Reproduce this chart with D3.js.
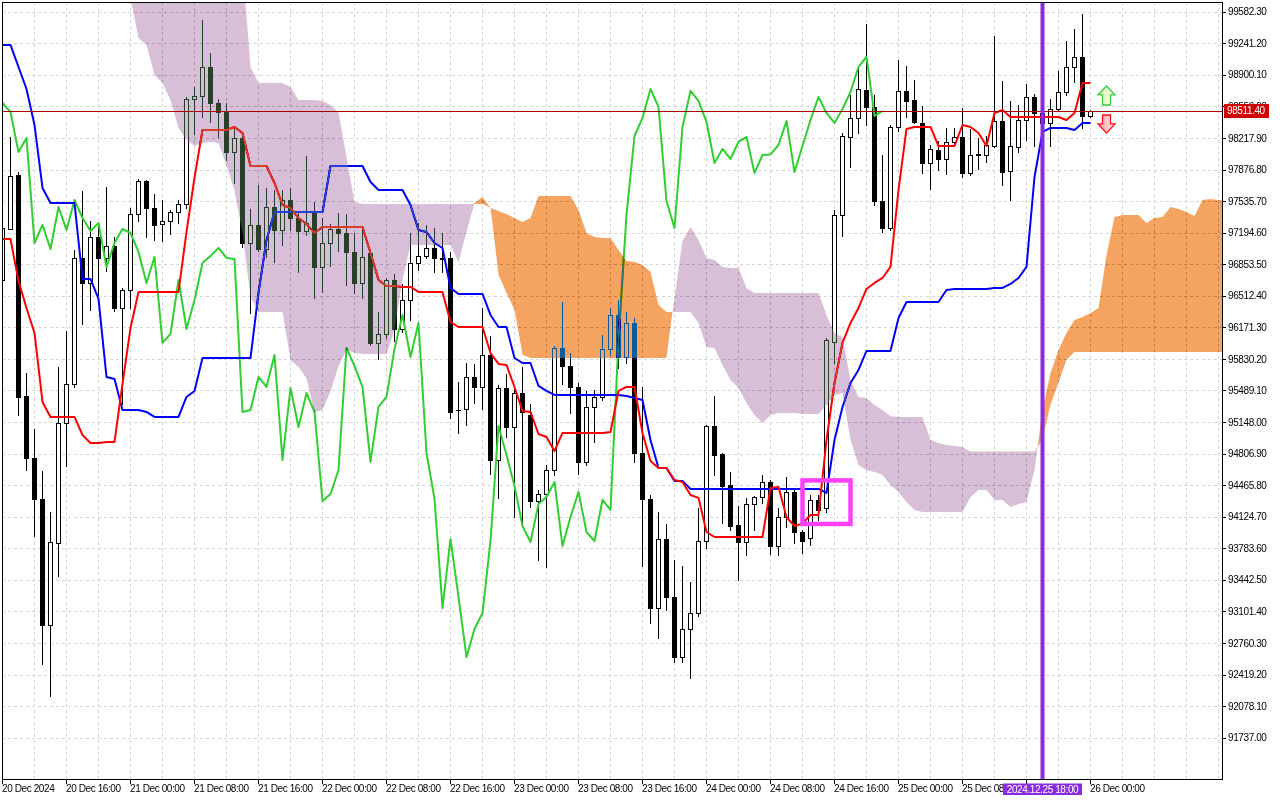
<!DOCTYPE html>
<html><head><meta charset="utf-8">
<script src="https://cdn.jsdelivr.net/npm/d3@7"></script>
<style>
html,body{margin:0;padding:0;background:#fff;overflow:hidden;}
svg{display:block;}
text{font-family:"Liberation Sans",Arial,sans-serif;font-size:10px;letter-spacing:-0.4px;}
</style></head><body>
<svg id="chart" width="1280" height="800"></svg>
<script>
// ---------- DATA (BTC H1, 20 Dec 08:00 .. 26 Dec 00:00) ----------
const openP = [96683,97234,97818,95430,94760,94317,92955,93841,95138,95560,
96921,96651,97148,96921,97051,96381,96575,97397,97753,97461,
97288,97321,97418,97505,98639,98672,98985,98596,98499,98066,
98218,97083,97278,97018,97472,97224,97548,97353,97213,97407,
96824,97083,97234,97191,96986,96651,96975,96003,96100,96683,
96154,96467,96867,96943,97029,96921,96921,95279,95289,95635,
95527,95873,94738,95516,95095,95462,95225,94295,94371,94630,
95949,95754,95527,94717,95311,95419,95938,96305,95851,96219,
94814,94317,93139,93885,93258,92609,92912,93085,93863,95106,
94803,94468,94036,93852,94263,94338,94501,93809,94122,94392,
93960,93895,94306,94220,96013,97386,98229,98434,98736,98553,
97537,97245,98337,98726,98628,98380,97948,98088,97991,98175,
98229,97840,98034,98034,98131,98401,97861,98121,98412,98661,
98488,98380,98531,98715,98985,99093,98456];
const highP = [97245,98229,97850,95678,95073,94619,94176,95743,96132,97008,
97645,97321,97278,97688,97148,96597,97461,97775,97760,97613,
97548,97440,97548,98661,98769,99493,99136,98639,98596,98326,
98272,97451,97710,97677,97656,97656,97677,97407,98023,97526,
97353,97288,97407,97397,97191,97224,96986,96338,96705,96748,
96640,97191,97299,97278,97245,97191,96986,95581,95786,95776,
96381,96078,95549,95668,95527,95743,95343,94414,94684,95970,
96446,95894,95570,95484,95495,96089,96381,96467,96338,96273,
95527,94360,94176,94047,93658,93593,93420,94220,95116,95430,
94810,94609,94241,94328,94349,94576,94522,94220,94555,94436,
93982,94360,94360,96057,97440,98272,98682,98985,99450,98682,
98034,98358,99061,98996,98845,98564,98142,98185,98326,98326,
98542,98315,98218,98239,99320,98834,98618,98574,98801,98693,
98628,98639,98942,99266,99396,99558,98520];
const lowP = [96683,97234,95224,94630,93917,92534,92188,93485,94673,95527,
96208,96359,96521,96781,96348,95343,96381,97321,97148,97116,
97105,97180,97299,97461,98261,98445,98391,98229,97980,97731,
97040,96327,96997,96932,96878,97062,97224,96770,97170,96489,
96554,96835,96997,96629,96543,96489,95981,95830,96057,96024,
96121,96251,96791,96921,96770,96770,95192,95030,95116,95354,
95289,94587,94328,94987,94122,94057,94230,93658,93582,94576,
95560,95246,94587,94684,94933,95387,95873,95732,95786,94717,
93593,92977,92815,93117,92555,92555,92383,93053,93787,94576,
94057,93982,93441,93712,93982,94274,93722,93712,94014,93841,
93733,93820,94090,94176,95786,97159,97904,98272,98358,97494,
97202,97224,98293,98445,98380,97840,97667,97872,97829,98153,
97796,97818,97883,97958,98121,97710,97548,98066,98196,98131,
98250,98131,98520,98682,98823,98326,98445];
const closeP = [97245,97807,95419,94760,94317,92955,93852,95138,95560,96921,
96651,97148,96921,97051,96381,96575,97397,97753,97461,97278,
97321,97418,97505,98639,98672,98985,98596,98499,98066,98218,
97083,97278,97018,97472,97224,97548,97353,97213,97299,96824,
97083,97234,97191,96986,96651,96932,96003,96100,96683,96154,
96467,96867,96943,97029,96921,96910,95257,95279,95635,95527,
95873,94738,95516,95095,95462,95257,94295,94371,94630,95949,
95754,95527,94717,95311,95419,95938,96305,95851,96219,94814,
94317,93139,93885,93258,92609,92912,93085,93863,95106,94792,
94457,94025,93852,94263,94338,94501,93809,94122,94392,93960,
93863,94306,94198,96035,97386,98239,98434,98747,98553,97537,
97245,98337,98726,98618,98391,97948,98099,97991,98175,98229,
97840,98034,98040,98142,98401,97850,98131,98412,98661,98488,
98380,98531,98715,98985,99093,98456,98511.4];
const tenkan = [97126,97126,96673,96381,96111,95365,95203,95203,95203,95203,
95008,94922,94922,94933,94933,95560,96165,96554,96554,96554,
96554,96554,96554,97202,97786,98304,98304,98304,98304,98337,
98272,97915,97915,97915,97731,97494,97461,97353,97288,97191,
97256,97256,97256,97256,97256,97256,96975,96683,96618,96618,
96608,96608,96554,96554,96554,96554,96229,96175,96175,96175,
96175,95894,95776,95765,95527,95268,95257,95019,94987,94835,
95030,95030,95030,95030,95030,95030,95041,95484,95527,95527,
95030,94727,94652,94652,94522,94500,94360,94328,93960,93906,
93906,93906,93906,93906,93906,93906,94436,94446,94122,94025,
94050,94144,94144,94954,95570,96003,96219,96381,96586,96651,
96705,96824,97656,98315,98337,98337,98337,98131,98131,98131,
98358,98337,98272,98131,98488,98520,98445,98445,98445,98445,
98445,98445,98445,98412,98488,98812,98812];
const kijun = [99223,99223,98985,98747,98358,97678,97515,97515,97515,97515,
96694,96694,96478,95635,95613,95279,95279,95279,95257,95203,
95203,95203,95203,95419,95484,95840,95840,95840,95840,95840,
95840,95840,96543,97116,97418,97418,97418,97418,97418,97418,
97418,97915,97915,97915,97915,97915,97742,97656,97656,97656,
97656,97494,97224,97202,97083,97029,96597,96532,96532,96532,
96532,96305,96175,96175,95840,95786,95786,95538,95484,95441,
95441,95441,95441,95441,95441,95441,95441,95441,95430,95408,
95387,94954,94652,94652,94511,94511,94425,94425,94425,94425,
94425,94425,94425,94425,94425,94425,94425,94425,94425,94425,
94425,94425,94425,94382,94954,95311,95570,95711,95916,95916,
95916,95916,96273,96446,96446,96446,96446,96446,96575,96586,
96586,96586,96586,96586,96597,96597,96640,96705,96824,97796,
98283,98326,98326,98326,98304,98380,98380];
// Senkou spans, already displaced 26 bars forward (index = bar position)
const spanA = [100980,100920,100870,100810,100760,100700,100650,100590,100520,100460,
100390,100310,100220,100110,99990,99860,99730,99298,99223,98899,
98812,98628,98326,98196,98131,98164,98174,98164,97920,97650,
97191,96500,96337,96337,96337,96337,95819,95743,95620,95257,
95279,95480,95750,95930,95894,95884,95884,95884,95884,96143,
96683,97062,97062,97062,97062,97062,97062,96878,97202,97515,
97580,97461,97429,97397,97353,97310,97353,97591,97591,97591,
97591,97591,97440,97191,97148,97137,97137,97008,96889,96878,
96845,96770,96413,96337,96337,96337,96337,96219,95959,95948,
95765,95603,95516,95354,95224,95138,95224,95246,95246,95246,
95236,95236,95236,95333,95441,95462,94954,94684,94630,94608,
94576,94468,94392,94284,94198,94176,94176,94176,94176,94176,
94176,94338,94414,94414,94306,94306,94230,94263,94284,94630,
95279,95678,95927,96111,96251,96284,96327,96381,96950,97364,
97386,97386,97386,97299,97353,97364,97472,97451,97418,97375,
97548,97559,97548,97548];
const spanB = [100100,100100,100100,100100,100100,100100,100100,100100,100100,100100,
100100,100100,100100,100100,100100,100100,100100,100100,100100,100100,
100100,100100,100100,100100,100100,100100,100100,100100,100100,100100,
100100,98985,98812,98812,98812,98812,98769,98628,98628,98628,
98618,98574,98499,98012,97526,97505,97505,97505,97505,97505,
97505,97505,97505,97505,97505,97505,97505,97505,97505,97505,
97505,97461,96737,96543,96359,95873,95840,95840,95840,95840,
95840,95840,95840,95840,95840,95840,95840,95840,95840,95840,
95840,95840,95840,95840,96489,97105,97256,97116,96921,96899,
96824,96813,96813,96597,96543,96543,96543,96543,96543,96543,
96543,96543,96543,96305,96111,96067,95603,95419,95408,95333,
95279,95214,95203,95203,95203,95203,94954,94922,94900,94890,
94879,94830,94830,94830,94830,94830,94830,94830,94830,94830,
94954,95333,95570,95819,95905,95905,95905,95905,95905,95905,
95905,95905,95905,95905,95905,95905,95905,95905,95905,95905,
95905,95905,95905,95905];
const priceTicks = [99582.30,99241.20,98900.10,98559.00,98217.90,97876.80,97535.70,97194.60,
96853.50,96512.40,96171.30,95830.20,95489.10,95148.00,94806.90,94465.80,94124.70,93783.60,
93442.50,93101.40,92760.30,92419.20,92078.10,91737.00];
const timeLabels = ["20 Dec 2024","20 Dec 16:00","21 Dec 00:00","21 Dec 08:00","21 Dec 16:00",
"22 Dec 00:00","22 Dec 08:00","22 Dec 16:00","23 Dec 00:00","23 Dec 08:00","23 Dec 16:00",
"24 Dec 00:00","24 Dec 08:00","24 Dec 16:00","25 Dec 00:00","25 Dec 08:00","25 Dec 16:00","26 Dec 00:00"];
const labelEvery = 8, gridEvery = 4, chikouShift = 26;
const lastPrice = 98511.40;
const markerBar = 130, markerLabel = "2024.12.25 18:00";
const boxBars = [100, 106], boxPrices = [94517, 94047];
const arrowBar = 138, upArrow = [98780, 98574], downArrow = [98466, 98272];

// ---------- LAYOUT ----------
const PL = 2, PT = 2, PR = 1222, PB = 779;
const svg = d3.select("#chart");
const defs = svg.append("defs");
const x = d3.scaleLinear().domain([0, 152.5]).range([2.5, 1222.5]);
const y = d3.scaleLinear().domain([91737.0, 99582.3]).range([737.7, 11.7]);
const cy = v => Math.round(y(v)) + 0.5;

svg.append("rect").attr("width", 1280).attr("height", 800).attr("fill", "#fff");
defs.append("clipPath").attr("id", "plotClip").append("rect")
  .attr("x", PL).attr("y", PT).attr("width", PR - PL).attr("height", PB - PT);

// grid
const grid = svg.append("g").attr("clip-path", "url(#plotClip)")
  .attr("stroke", "#d6d6d6").attr("stroke-dasharray", "3,3").attr("shape-rendering", "crispEdges");
priceTicks.forEach(v => grid.append("line").attr("x1", PL).attr("x2", PR).attr("y1", cy(v)).attr("y2", cy(v)));
d3.range(gridEvery, 153, gridEvery).forEach(i => grid.append("line")
  .attr("x1", x(i)).attr("x2", x(i)).attr("y1", PT).attr("y2", PB));

// candles
const cg = svg.append("g").attr("clip-path", "url(#plotClip)").attr("shape-rendering", "crispEdges");
openP.forEach((o, i) => {
  const c = closeP[i], cx = x(i);
  const yh = Math.round(y(highP[i])), yl = Math.round(y(lowP[i]));
  const yo = Math.round(y(o)), yc = Math.round(y(c));
  cg.append("line").attr("x1", cx).attr("x2", cx).attr("y1", yh).attr("y2", yl + 1).attr("stroke", "#000");
  if (c > o) {
    cg.append("rect").attr("x", cx - 2).attr("y", yc + 0.5).attr("width", 4)
      .attr("height", Math.max(yo - yc, 1)).attr("fill", "#fff").attr("stroke", "#000");
  } else {
    cg.append("rect").attr("x", cx - 2.5).attr("y", yo).attr("width", 5)
      .attr("height", Math.max(yc - yo, 0) + 1).attr("fill", "#000");
  }
});

// Ichimoku lines
const lg = svg.append("g").attr("clip-path", "url(#plotClip)").attr("fill", "none").attr("stroke-width", 2)
  .attr("stroke-linejoin", "round");
lg.append("path").attr("d", d3.line().x((d, i) => x(i - chikouShift)).y(d => y(d))(closeP)).attr("stroke", "#32cd32");
lg.append("path").attr("d", d3.line().x((d, i) => x(i)).y(d => y(d))(kijun)).attr("stroke", "#0000ff");
lg.append("path").attr("d", d3.line().x((d, i) => x(i)).y(d => y(d))(tenkan)).attr("stroke", "#ff0000");

// cloud (XOR-like difference blend as in terminal)
const cidx = d3.range(spanA.length);
defs.append("clipPath").attr("id", "aboveB").append("path")
  .attr("d", d3.area().x(j => x(j)).y0(-5000).y1(j => y(spanB[j]))(cidx));
defs.append("clipPath").attr("id", "belowB").append("path")
  .attr("d", d3.area().x(j => x(j)).y0(j => y(spanB[j])).y1(5000)(cidx));
const band = d3.area().x(j => x(j)).y0(j => y(spanA[j])).y1(j => y(spanB[j]))(cidx);
const cloud = svg.append("g").attr("clip-path", "url(#plotClip)").style("mix-blend-mode", "difference");
cloud.append("path").attr("d", band).attr("fill", "#0b5b9f").attr("clip-path", "url(#aboveB)");
cloud.append("path").attr("d", band).attr("fill", "#274027").attr("clip-path", "url(#belowB)");

// current price line
svg.append("line").attr("x1", PL).attr("x2", PR).attr("y1", cy(lastPrice)).attr("y2", cy(lastPrice))
  .attr("stroke", "#a80000").attr("shape-rendering", "crispEdges");

// vertical marker
svg.append("line").attr("x1", x(markerBar)).attr("x2", x(markerBar)).attr("y1", PT).attr("y2", PB)
  .attr("stroke", "#8a2be2").attr("stroke-width", 4);

// magenta box
svg.append("rect").attr("x", x(boxBars[0])).attr("y", y(boxPrices[0]))
  .attr("width", x(boxBars[1]) - x(boxBars[0])).attr("height", y(boxPrices[1]) - y(boxPrices[0]))
  .attr("fill", "none").attr("stroke", "#ff40ff").attr("stroke-width", 4.5);

// arrows
const grad1 = defs.append("linearGradient").attr("id", "gUp").attr("x1", 0).attr("x2", 1).attr("y1", 0).attr("y2", 0);
grad1.append("stop").attr("offset", 0).attr("stop-color", "#d8f7a8");
grad1.append("stop").attr("offset", 1).attr("stop-color", "#ffffff");
const grad2 = defs.append("linearGradient").attr("id", "gDn").attr("x1", 0).attr("x2", 1).attr("y1", 0).attr("y2", 0);
grad2.append("stop").attr("offset", 0).attr("stop-color", "#ff9a9a");
grad2.append("stop").attr("offset", 1).attr("stop-color", "#fff0f0");
function arrowPath(cx, tipY, baseY) {
  const dir = Math.sign(baseY - tipY), headY = tipY + dir * 9;
  return d3.line()([[cx, tipY], [cx + 8.5, headY], [cx + 4, headY], [cx + 4, baseY], [cx - 4, baseY],
    [cx - 4, headY], [cx - 8.5, headY]]) + "Z";
}
svg.append("path").attr("d", arrowPath(x(arrowBar), y(upArrow[0]), y(upArrow[1])))
  .attr("fill", "url(#gUp)").attr("stroke", "#3ccc3c").attr("stroke-width", 1.3);
svg.append("path").attr("d", arrowPath(x(arrowBar), y(downArrow[1]), y(downArrow[0])))
  .attr("fill", "url(#gDn)").attr("stroke", "#ff1010").attr("stroke-width", 1.3);

// frame
svg.append("rect").attr("x", PL + 0.5).attr("y", PT + 0.5).attr("width", PR - PL).attr("height", PB - PT)
  .attr("fill", "none").attr("stroke", "#000").attr("shape-rendering", "crispEdges");

// price axis
const ax = svg.append("g");
priceTicks.forEach(v => {
  ax.append("line").attr("x1", PR).attr("x2", PR + 4).attr("y1", cy(v)).attr("y2", cy(v))
    .attr("stroke", "#000").attr("shape-rendering", "crispEdges");
  ax.append("text").attr("x", PR + 6).attr("y", y(v)).attr("dy", "0.36em").text(v.toFixed(2));
});
svg.append("rect").attr("x", PR + 2).attr("y", Math.round(y(lastPrice)) - 7).attr("width", 45).attr("height", 14)
  .attr("fill", "#d00000");
svg.append("text").attr("x", PR + 5).attr("y", y(lastPrice)).attr("dy", "0.36em").attr("fill", "#fff")
  .text(lastPrice.toFixed(2));

// time axis (labels under the marker tag are hidden / cut as in the terminal)
const tagW = 79, tagL = x(markerBar) - tagW / 2, tagR = x(markerBar) + tagW / 2;
defs.append("clipPath").attr("id", "tagCut").append("rect").attr("x", 0).attr("y", 770).attr("width", tagL).attr("height", 30);
timeLabels.forEach((t, k) => {
  const xi = x(k * labelEvery);
  ax.append("line").attr("x1", xi).attr("x2", xi).attr("y1", PB).attr("y2", PB + 5)
    .attr("stroke", "#000").attr("shape-rendering", "crispEdges");
  if (xi >= tagL && xi <= tagR) return;
  const tx = ax.append("text").attr("x", xi - 0.5).attr("y", 792).text(t);
  if (xi < tagL && xi + 60 > tagL) tx.attr("clip-path", "url(#tagCut)");
});
svg.append("rect").attr("x", tagL).attr("y", 783.5).attr("width", tagW).attr("height", 11.5).attr("fill", "#8a2be2");
svg.append("text").attr("x", x(markerBar)).attr("y", 792.5).attr("text-anchor", "middle").attr("fill", "#fff").text(markerLabel);
</script>
</body></html>
